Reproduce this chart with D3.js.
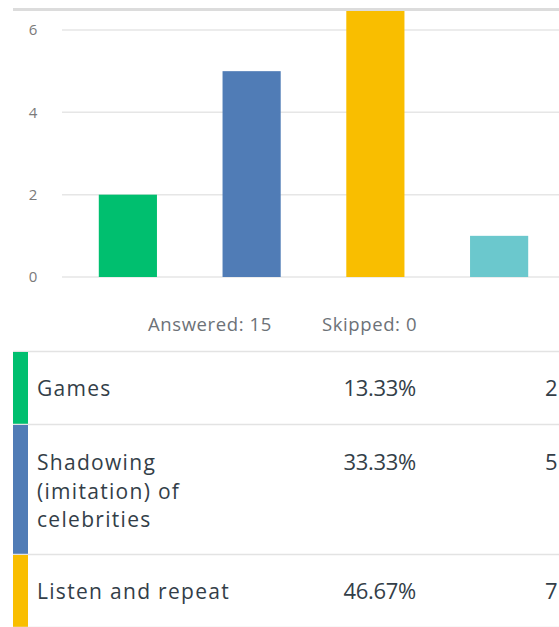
<!DOCTYPE html>
<html>
<head>
<meta charset="utf-8">
<script src="https://cdn.jsdelivr.net/npm/d3@7"></script>
<style>
  html, body { margin: 0; padding: 0; background: #fff; overflow: hidden; }
  svg { display: block; }
</style>
</head>
<body>
<svg id="chart" width="559" height="627"></svg>
<script>
// Survey responses per answer choice
const categories = ["Games", "Shadowing (imitation) of celebrities", "Listen and repeat", "Other"];
const categoryLines = [["Games"], ["Shadowing", "(imitation) of", "celebrities"], ["Listen and repeat"], ["Other"]];
const counts = [2, 5, 7, 1];
const colors = ["#00bf6f", "#507cb6", "#f9be00", "#6bc8cd"];
const yTicks = [0, 2, 4, 6];
const answered = 15;
const skipped = 0;

const W = 559, H = 627;
const svg = d3.select("#chart");
const font = "'Open Sans', 'Noto Sans', sans-serif";

// panel top rule
svg.append("rect").attr("x", 13).attr("y", 8).attr("width", W - 13).attr("height", 3).attr("fill", "#dcdcdc");

const x = d3.scaleBand().domain(categories).range([66, 561]).paddingInner(0.53).paddingOuter(0.265);
const y = d3.scaleLinear().domain([0, 6]).range([277, 30]);

svg.append("clipPath").attr("id", "plotClip")
  .append("rect").attr("x", 13).attr("y", 11).attr("width", W - 13).attr("height", 300);

// gridlines
svg.append("g").selectAll("line").data(yTicks).join("line")
  .attr("x1", 62).attr("x2", W)
  .attr("y1", d => y(d)).attr("y2", d => y(d))
  .attr("stroke", "#e6e6e6").attr("stroke-width", 1.5);

// y tick labels
const yAxis = d3.axisLeft(y).tickValues(yTicks).tickFormat(d3.format("d")).tickSize(0).tickPadding(0);
const ya = svg.append("g").attr("transform", "translate(37,0)").call(yAxis);
ya.select(".domain").remove();
ya.selectAll("text").attr("font-family", font).attr("font-size", 15).attr("fill", "#7a7a7a")
  .attr("text-anchor", "middle").attr("x", -4);

// bars
svg.append("g").attr("clip-path", "url(#plotClip)")
  .selectAll("rect").data(categories).join("rect")
  .attr("x", d => x(d)).attr("width", x.bandwidth())
  .attr("y", (d, i) => y(counts[i])).attr("height", (d, i) => y(0) - y(counts[i]))
  .attr("fill", (d, i) => colors[i]);

// summary
const summary = [["Answered: " + answered, 148], ["Skipped: " + skipped, 322]];
svg.append("g").selectAll("text").data(summary).join("text")
  .attr("x", d => d[1]).attr("y", 331)
  .attr("font-family", font).attr("font-size", 18.5).attr("letter-spacing", 0.6)
  .attr("fill", "#6d7278").text(d => d[0]);

// table of answer choices (rows that start inside the view)
const rowTops = [352, 425, 555, 628];
const rowBottoms = [425, 555, 628, 700];
const pct = d3.format(".2f");
const total = d3.sum(counts);
const tbl = svg.append("g");
tbl.append("line").attr("x1", 13).attr("x2", W).attr("y1", 351.5).attr("y2", 351.5)
  .attr("stroke", "#e3e3e3").attr("stroke-width", 1.5);
categories.forEach((c, i) => {
  if (rowTops[i] >= H) return;
  const g = tbl.append("g");
  g.append("rect").attr("x", 13).attr("y", rowTops[i]).attr("width", 15)
    .attr("height", rowBottoms[i] - rowTops[i]).attr("fill", colors[i]);
  g.append("line").attr("x1", 13).attr("x2", W).attr("y1", rowBottoms[i] - 0.5).attr("y2", rowBottoms[i] - 0.5)
    .attr("stroke", "#e3e3e3").attr("stroke-width", 1.5);
  const base = rowTops[i] + 44 + (categoryLines[i].length > 1 ? 1 : 0);
  const t = g.append("text").attr("font-family", font).attr("font-size", 21)
    .attr("letter-spacing", 1.3).attr("fill", "#333e48");
  categoryLines[i].forEach((ln, k) => {
    t.append("tspan").attr("x", 37).attr("y", base + k * 28.7).text(ln);
  });
  g.append("text").attr("x", 416).attr("y", base).attr("text-anchor", "end")
    .attr("font-family", font).attr("font-size", 22).attr("letter-spacing", -0.3).attr("fill", "#333e48")
    .text(pct(counts[i] / total * 100) + "%");
  g.append("text").attr("x", 545).attr("y", base)
    .attr("font-family", font).attr("font-size", 22).attr("fill", "#333e48")
    .text(counts[i]);
});
</script>
</body>
</html>
